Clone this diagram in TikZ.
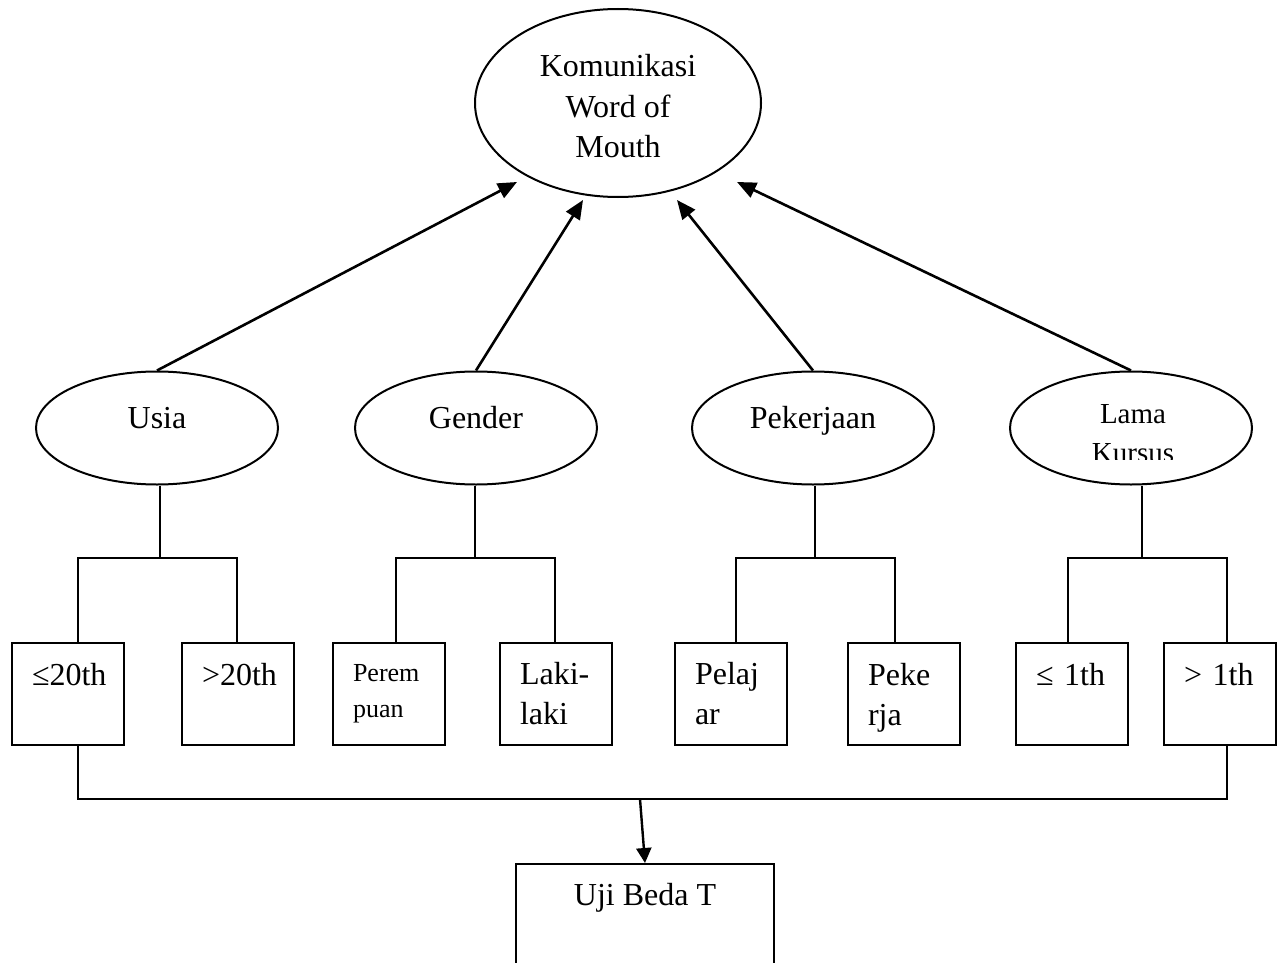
\documentclass[tikz,border=0pt]{standalone}
\usepackage{fontspec}
\setmainfont{Liberation Serif}
\usetikzlibrary{shapes.geometric,arrows.meta}
\begin{document}
\begin{tikzpicture}[x=1pt,y=-1pt,
  shapeline/.style={draw=black,line width=2pt},
  oval/.style={shapeline, ellipse, minimum width=242pt, minimum height=113pt, inner sep=0pt,
    font=\fontsize{32}{40}\selectfont, text height=1pt, text depth=1pt},
  catbox/.style={shapeline, rectangle, minimum width=112pt, minimum height=102pt,
    inner xsep=20pt, inner ysep=0pt, text width=72pt, align=left,
    font=\fontsize{32}{40}\selectfont},
  link/.style={line width=2pt},
  upar/.style={line width=2.6pt, -{Triangle[length=19pt,width=16pt]}},
  downar/.style={line width=2.4pt, -{Triangle[length=15pt,width=15pt]}},
]
\clip (0,0) rectangle (1285,963);
\fill[white] (0,0) rectangle (1285,963);

% top ellipse
\node[oval, minimum width=286pt, minimum height=188pt] (kom) at (618,103) {};
\node[font=\fontsize{32}{40.5}\selectfont, align=center, inner sep=0pt] (komtext) at (618,106.5) {Komunikasi\\Word of\\Mouth};

% second row
\node[oval] (usia) at (157,428) {Usia};
\node[oval] (gender) at (476,428) {Gender};
\node[oval] (pek) at (813,428) {Pekerjaan};
\node[oval] (lama) at (1131,428) {};
\begin{scope}
  \clip (1000,380) rectangle (1260,459);
  \node[font=\fontsize{29}{39}\selectfont, align=center, inner sep=0pt, anchor=north] (lamatext) at (1133,404) {Lama\\Kursus};
\end{scope}

% boxes
\node[catbox] (b1) at (68,694) {≤20th\\\mbox{}};
\node[catbox] (b2) at (238,694) {>20th\\\mbox{}};
\node[catbox, font=\fontsize{26}{36}\selectfont] (b3) at (389,694) {Perem\\puan};
\node[catbox] (b4) at (556,694) {Laki-\\laki};
\node[catbox] (b5) at (731,694) {Pelaj\\ar};
\node[catbox] (b6) at (904,694) {Peke\\\smash{rja}};
\node[catbox] (b7) at (1072,694) {≤ 1th\\\mbox{}};
\node[catbox] (b8) at (1220,694) {> 1th\\\mbox{}};

% result box
\node[shapeline, anchor=north, minimum width=258pt, inner xsep=0pt, inner ysep=19pt,
  text height=22pt, text depth=80pt, font=\fontsize{32}{40}\selectfont] (uji) at (645,863) {Uji Beda T};

% arrow tips near top ellipse
\coordinate (t1) at (517,182);
\coordinate (t2) at (583,200);
\coordinate (t3) at (677,200);
\coordinate (t4) at (737,182);
\draw[upar] (usia.north) -- (t1);
\draw[upar] (gender.north) -- (t2);
\draw[upar] (pek.north) -- (t3);
\draw[upar] (lama.north) -- (t4);

% stems
\coordinate (s1) at (160,558);
\coordinate (s2) at (475,558);
\coordinate (s3) at (815,558);
\coordinate (s4) at (1142,558);
\draw[link] (usia.south -| s1) -- (s1);
\draw[link] (gender.south -| s2) -- (s2);
\draw[link] (pek.south -| s3) -- (s3);
\draw[link] (lama.south -| s4) -- (s4);

% brackets
\coordinate (k1) at (78,558);
\coordinate (k2) at (237,558);
\coordinate (k3) at (396,558);
\coordinate (k4) at (555,558);
\coordinate (k5) at (736,558);
\coordinate (k6) at (895,558);
\coordinate (k7) at (1068,558);
\coordinate (k8) at (1227,558);
\draw[link] (b1.north -| k1) -- (k1) -- (k2) -- (b2.north -| k2);
\draw[link] (b3.north -| k3) -- (k3) -- (k4) -- (b4.north -| k4);
\draw[link] (b5.north -| k5) -- (k5) -- (k6) -- (b6.north -| k6);
\draw[link] (b7.north -| k7) -- (k7) -- (k8) -- (b8.north -| k8);

% bottom collector
\coordinate (m1) at (78,799);
\coordinate (m2) at (1227,799);
\coordinate (mj) at (640,799);
\draw[link] (b1.south -| m1) -- (m1) -- (m2) -- (b8.south -| m2);
\draw[downar] (mj) -- (uji.north);
\end{tikzpicture}
\end{document}
